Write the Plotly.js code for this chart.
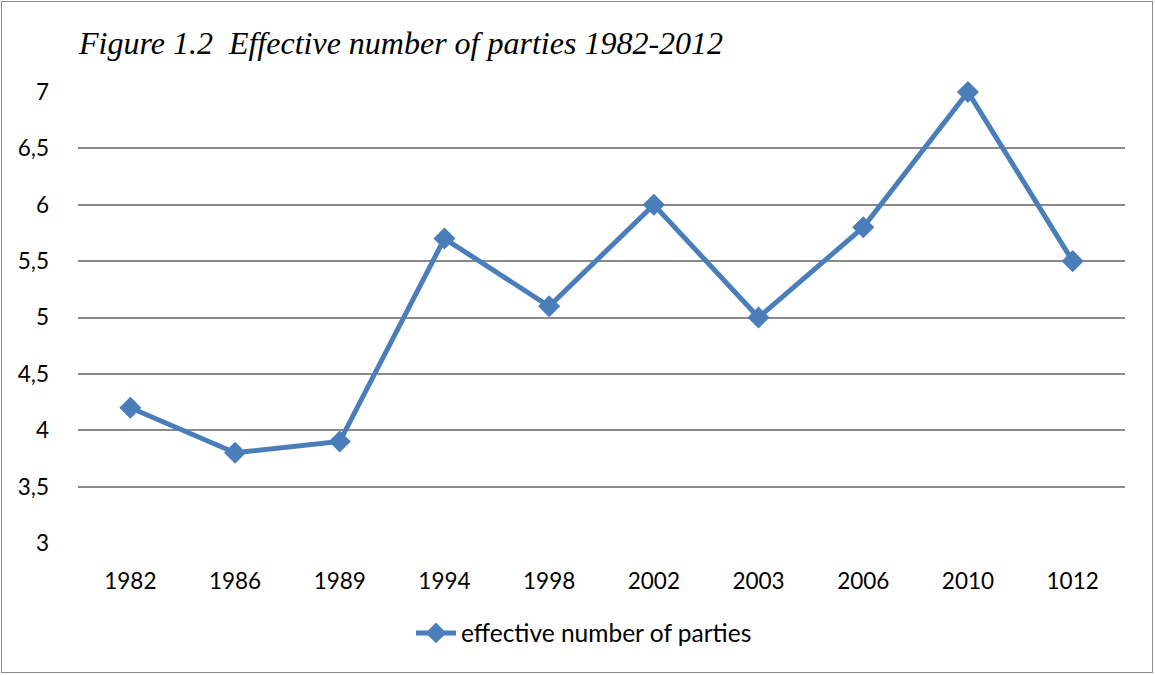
<!DOCTYPE html>
<html>
<head>
<meta charset="utf-8">
<script src="https://cdn.plot.ly/plotly-3.0.1.min.js"></script>
<style>
html,body{margin:0;padding:0;background:#fff;}
#wrap{position:relative;width:1155px;height:675px;}
#chart{position:absolute;left:0;top:0;width:1155px;height:675px;}
#frame{position:absolute;left:1px;top:1px;width:1150px;height:670px;border:1px solid #8c8c8c;pointer-events:none;}
</style>
</head>
<body>
<div id="wrap"><div id="chart"></div><div id="frame"></div></div>
<script>
var years = ["1982","1986","1989","1994","1998","2002","2003","2006","2010","1012"];
var enp = [4.2, 3.8, 3.9, 5.7, 5.1, 6.0, 5.0, 5.8, 7.0, 5.5];
var yTicks = [3, 3.5, 4, 4.5, 5, 5.5, 6, 6.5, 7];
var yTickText = ["3","3,5","4","4,5","5","5,5","6","6,5","7"];

var trace = {
  x: years, y: enp, type: "scatter", mode: "lines+markers",
  name: "effective number of parties",
  line: {color: "#4A7EBB", width: 5},
  marker: {symbol: "diamond", size: 17, color: "#4A7EBB"},
  cliponaxis: false
};
var font = "Lato, 'Open Sans', sans-serif";
var layout = {
  width: 1155, height: 675,
  margin: {l: 78, r: 30, t: 92, b: 132},
  paper_bgcolor: "#fff", plot_bgcolor: "#fff",
  title: {
    text: "Figure 1.2\u00a0 Effective number of parties 1982-2012",
    font: {family: "'Liberation Serif', 'Times New Roman', serif", size: 32, color: "#000", style: "italic"},
    x: 79/1155, xanchor: "left", xref: "container", y: 1-43/675, yanchor: "middle", yref: "container"
  },
  xaxis: {
    type: "category", range: [-0.5, 9.5], showgrid: false, zeroline: false,
    showline: false, ticks: "", ticklabelstandoff: 22,
    tickfont: {family: font, size: 22.5, color: "#000"}
  },
  yaxis: {
    range: [3, 7], tickvals: yTicks, ticktext: yTickText,
    showgrid: true, gridcolor: "#8a8a8a", gridwidth: 1.5, zeroline: false,
    showline: false, ticks: "", ticklabelstandoff: 28,
    tickfont: {family: font, size: 22.5, color: "#000"}
  },
  showlegend: true,
  legend: {
    orientation: "h", x: 584/1155, xanchor: "center", xref: "container",
    y: 1-633/675, yanchor: "middle", yref: "container",
    font: {family: font, size: 24.5, color: "#000"}, itemwidth: 40
  }
};
Plotly.newPlot("chart", [trace], layout, {displayModeBar: false});
</script>
</body>
</html>
